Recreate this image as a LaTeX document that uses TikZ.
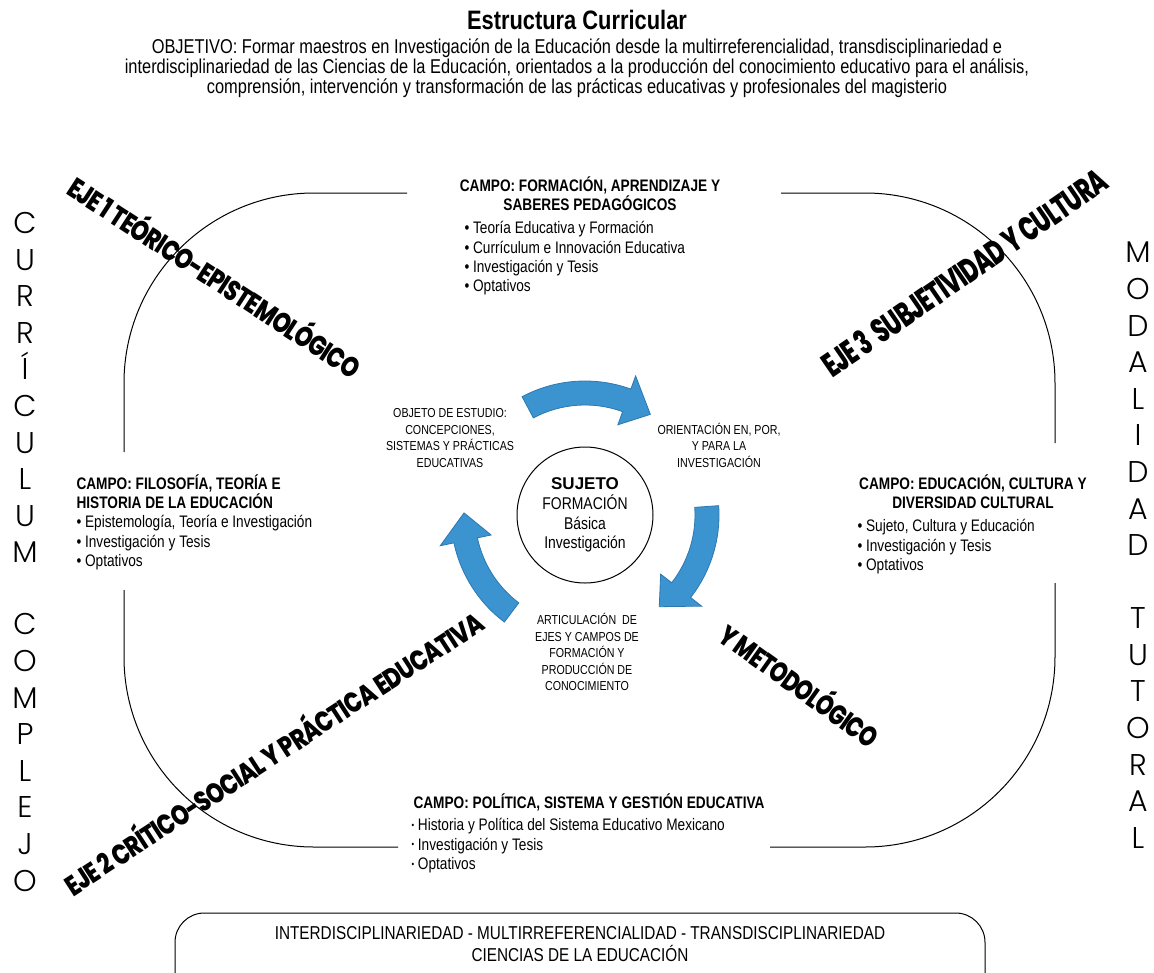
\documentclass[tikz,border=0pt]{standalone}
\usepackage{fontspec}
\usepackage{graphicx}
\setmainfont{Liberation Sans}[FakeStretch=0.82]
\newfontfamily\anchafont{Liberation Sans}
\newfontfamily\ejefont{Poppins}[UprightFont=* ExtraBold, LetterSpace=-4]
\newfontfamily\letrafont{Poppins}[UprightFont=* Light]

\definecolor{azulflecha}{RGB}{59,148,207}
\definecolor{bordeflecha}{RGB}{44,120,176}

\tikzset{every picture/.style={line width=0.75pt}}
\tikzset{
  eje/.style={inner sep=0pt, font=\ejefont},
  campotitulo/.style={inner sep=0.75pt, font=\fontsize{12.5}{14.5}\selectfont\bfseries},
  campo/.style={inner sep=0.75pt, align=left, font=\fontsize{12.5}{14.5}\selectfont},
  rotulo/.style={inner sep=0.75pt, align=center, font=\fontsize{9.75}{12.4}\selectfont},
  vertical/.style={inner sep=0pt, align=center, font=\letrafont\fontsize{22.5}{27.45}\selectfont},
  flecha/.style={fill=azulflecha, draw=bordeflecha, line width=0.6pt},
}

\begin{document}
\begin{tikzpicture}[x=0.75pt,y=0.75pt,yscale=-1,xscale=1]
\clip (0,0) rectangle (1154,972);

%Title and objective
\draw (577,20) node (titulo) [inner sep=0.75pt, font=\fontsize{20}{22}\selectfont\bfseries] {Estructura Curricular};
\draw (577,68) node (objetivo) [inner sep=0.75pt, align=center, font=\fontsize{15}{15}\selectfont] {OBJETIVO: Formar maestros en Investigación de la Educación desde la multirreferencialidad, transdisciplinariedad e\\interdisciplinariedad de las Ciencias de la Educación, orientados a la producción del conocimiento educativo para el análisis,\\comprensión, intervención y transformación de las prácticas educativas y profesionales del magisterio};

%Rounded frame
\draw [rounded corners=142.5pt]  (407,193) -- (124,193) -- (124,452) ;
\draw [rounded corners=142.5pt]  (124,590) -- (124,847) -- (398,847) ;
\draw [rounded corners=142.5pt]  (770,847) -- (1055,847) -- (1055,583) ;
\draw [rounded corners=142.5pt]  (1055,443) -- (1055,193) -- (781,193) ;

%Circle
\draw (585,515) node (sujeto) [circle, draw, minimum size=102pt, inner sep=0pt, align=center, font=\fontsize{12.75}{14.8}\selectfont] {{\anchafont\bfseries SUJETO}\\FORMACIÓN\\Básica\\Investigación};

%Curved arrows
\begin{scope}[shift={(585,515)}, yscale=-1]
\draw [flecha] (118:134) arc [start angle=118, end angle=70, radius=134] -- (70:148) -- (57:120) -- (70:96) -- (70:110) arc [start angle=70, end angle=118, radius=110] -- cycle ;
\draw [flecha] (4:134) arc [start angle=4, end angle=-38, radius=134] -- (-38:148) -- (-51:118) -- (-38:96) -- (-38:110) arc [start angle=-38, end angle=4, radius=110] -- cycle ;
\draw [flecha] (-127:134) arc [start angle=-127, end angle=-168, radius=134] -- (-168:148) -- (-181:121) -- (-168:96) -- (-168:110) arc [start angle=-168, end angle=-127, radius=110] -- cycle ;
\end{scope}

%Labels round the circle
\draw (450,438) node (objeto) [rotulo] {OBJETO DE ESTUDIO:\\CONCEPCIONES,\\SISTEMAS Y PRÁCTICAS\\EDUCATIVAS};
\draw (719,445) node (orientacion) [rotulo] {ORIENTACIÓN EN, POR,\\Y PARA LA\\INVESTIGACIÓN};
\draw (587,652) node (articulacion) [rotulo] {ARTICULACIÓN~ DE\\EJES Y CAMPOS DE\\FORMACIÓN Y\\PRODUCCIÓN DE\\CONOCIMIENTO};

%Campos
\draw (590,194) node (formacion) [campotitulo, align=center, font=\fontsize{12.5}{13}\selectfont\bfseries] {CAMPO: FORMACIÓN, APRENDIZAJE Y\\SABERES PEDAGÓGICOS};
\draw (463,220) node (formacionlista) [campo, anchor=north west] {• Teoría Educativa y Formación\\• Currículum e Innovación Educativa\\• Investigación y Tesis\\• Optativos};

\draw (75,473) node (filosofia) [campo, anchor=north west] {\textbf{CAMPO: FILOSOFÍA, TEORÍA E}\\\textbf{HISTORIA DE LA EDUCACIÓN}\\• Epistemología, Teoría e Investigación\\• Investigación y Tesis\\• Optativos};

\draw (973,492) node (cultura) [campotitulo, align=center] {CAMPO: EDUCACIÓN, CULTURA Y\\DIVERSIDAD CULTURAL};
\draw (856,518) node (culturalista) [campo, anchor=north west] {• Sujeto, Cultura y Educación\\• Investigación y Tesis\\• Optativos};

\draw (412,802) node (politica) [campotitulo, anchor=west] {CAMPO: POLÍTICA, SISTEMA Y GESTIÓN EDUCATIVA};
\draw (410,817) node (politicalista) [campo, anchor=north west] {\raisebox{0.25ex}{\scalebox{0.55}{•}} Historia y Política del Sistema Educativo Mexicano\\\raisebox{0.25ex}{\scalebox{0.55}{•}} Investigación y Tesis\\\raisebox{0.25ex}{\scalebox{0.55}{•}} Optativos};

%Ejes
\draw (216,275) node (ejeuno) [eje, rotate=-33] {\resizebox{256.5pt}{21pt}{EJE 1 TEÓRICO-EPISTEMOLÓGICO}};
\draw (964.5,272.5) node (ejetres) [eje, rotate=34.5] {\resizebox{253.5pt}{19pt}{EJE 3~ SUBJETIVIDAD Y CULTURA}};
\draw (272.5,751) node (ejedos) [eje, rotate=33] {\resizebox{370pt}{21pt}{EJE 2 CRÍTICO-SOCIAL Y PRÁCTICA EDUCATIVA}};
\draw (801,683.5) node (metodologico) [eje, rotate=-35.5] {\resizebox{141pt}{21pt}{Y METODOLÓGICO}};

%Side words
\draw (25,387.5) node (curriculum) [vertical] {C\\U\\R\\R\\Í\\C\\U\\L\\U\\M};
\draw (25,752.5) node (complejo) [vertical] {C\\O\\M\\P\\L\\E\\J\\O};
\draw (1138,399) node (modalidad) [vertical] {M\\O\\D\\A\\L\\I\\D\\A\\D};
\draw (1138,728) node (tutoral) [vertical] {T\\U\\T\\O\\R\\A\\L};

%Bottom box
\draw [rounded corners=22pt]  (175,913) rectangle (985,1010) ;
\draw (580,944) node (ciencias) [inner sep=0.75pt, align=center, font=\fontsize{14}{17}\selectfont] {INTERDISCIPLINARIEDAD - MULTIRREFERENCIALIDAD - TRANSDISCIPLINARIEDAD\\CIENCIAS DE LA EDUCACIÓN};

\end{tikzpicture}
\end{document}
